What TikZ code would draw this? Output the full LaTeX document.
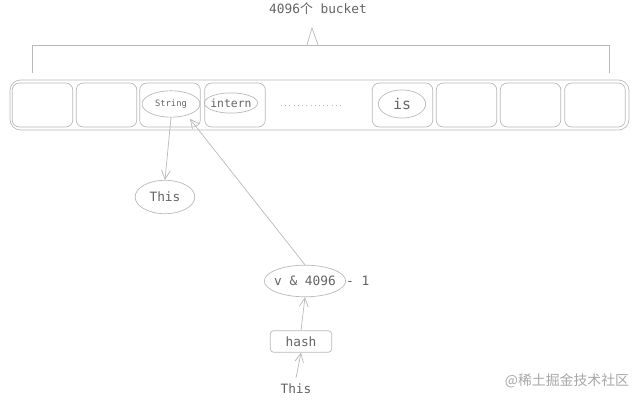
\documentclass[tikz,border=0pt]{standalone}
\usepackage{fontspec}
\setmonofont{DejaVu Sans Mono}
\newfontfamily\cjkfont{Noto Sans CJK SC}
\usetikzlibrary{arrows.meta, positioning, shapes.geometric}
\definecolor{lnegray}{RGB}{185, 185, 185}
\definecolor{txtgray}{RGB}{100, 100, 100}
\tikzset{
  cell/.style={draw=lnegray, rounded corners=4pt, minimum width=34.5pt, minimum height=25pt, inner sep=0pt},
  word/.style={draw=lnegray, ellipse, inner sep=0pt, text=txtgray},
  link/.style={lnegray, -{Straight Barb[length=5pt, width=5pt]}},
}

\begin{document}
\begin{tikzpicture}[x=0.02cm, y=-0.02cm, every node/.style={font=\ttfamily\fontsize{7.3}{8}\selectfont, text=txtgray}]
  \useasboundingbox (0,0) rectangle (640,401);

  % Title and brace
  \node (title) at (318,9) {4096{\cjkfont 个} bucket};
  \draw[lnegray] (32,73) -- (32,45) -- (609,45) -- (609,73);
  \draw[lnegray] (307,45) -- (312,28) -- (318,45);

  % Bucket table
  \draw[lnegray, rounded corners=6pt] (10,80) rectangle (629,130);
  \foreach \cx/\nm in {42.5/c1, 106.5/c2, 170/c3, 235/c4, 402.5/c5, 466.5/c6, 530.5/c7, 595/c8}
    \node[cell] (\nm) at (\cx,105) {};
  \draw[lnegray, dotted] (281,105) -- (343,105);

  % Words in buckets
  \node[word, minimum width=33pt, minimum height=15pt, font=\ttfamily\fontsize{5}{6}\selectfont] (str) at (171,104) {String};
  \node[word, minimum width=30pt, minimum height=11.5pt, inner xsep=-1pt, font=\ttfamily\fontsize{6.5}{7}\selectfont] (itn) at (231,103) {intern};
  \node[word, minimum width=27pt, minimum height=16pt, font=\ttfamily\fontsize{8.5}{9}\selectfont] (is) at (402,104) {is};

  % Lookup chain
  \node[word, minimum width=34pt, minimum height=19pt] (this) at (165,197) {This};
  \node[word, minimum width=46pt, minimum height=18pt, inner xsep=-1.2pt] (mask) at (305,281) {v \& 4096};
  \node[right=-3.5pt of mask.east] (minus) {- 1};
  \node[draw=lnegray, rounded corners=2pt, minimum width=35pt, minimum height=12pt] (hash) at (301,341.5) {hash};
  \node (src) at (296,389) {This};

  % Arrows
  \draw[link] (str.south) -- (this.north);
  \draw[link] (mask.north) -- (190,119);
  \draw[link] (hash.north) -- (mask.south);
  \draw[link] (src.north) -- (hash.south);

  % Watermark
  \node[font=\cjkfont\fontsize{7.9}{8}\selectfont, text=lnegray!90!black] (mark) at (567,381) {@稀土掘金技术社区};
\end{tikzpicture}
\end{document}
